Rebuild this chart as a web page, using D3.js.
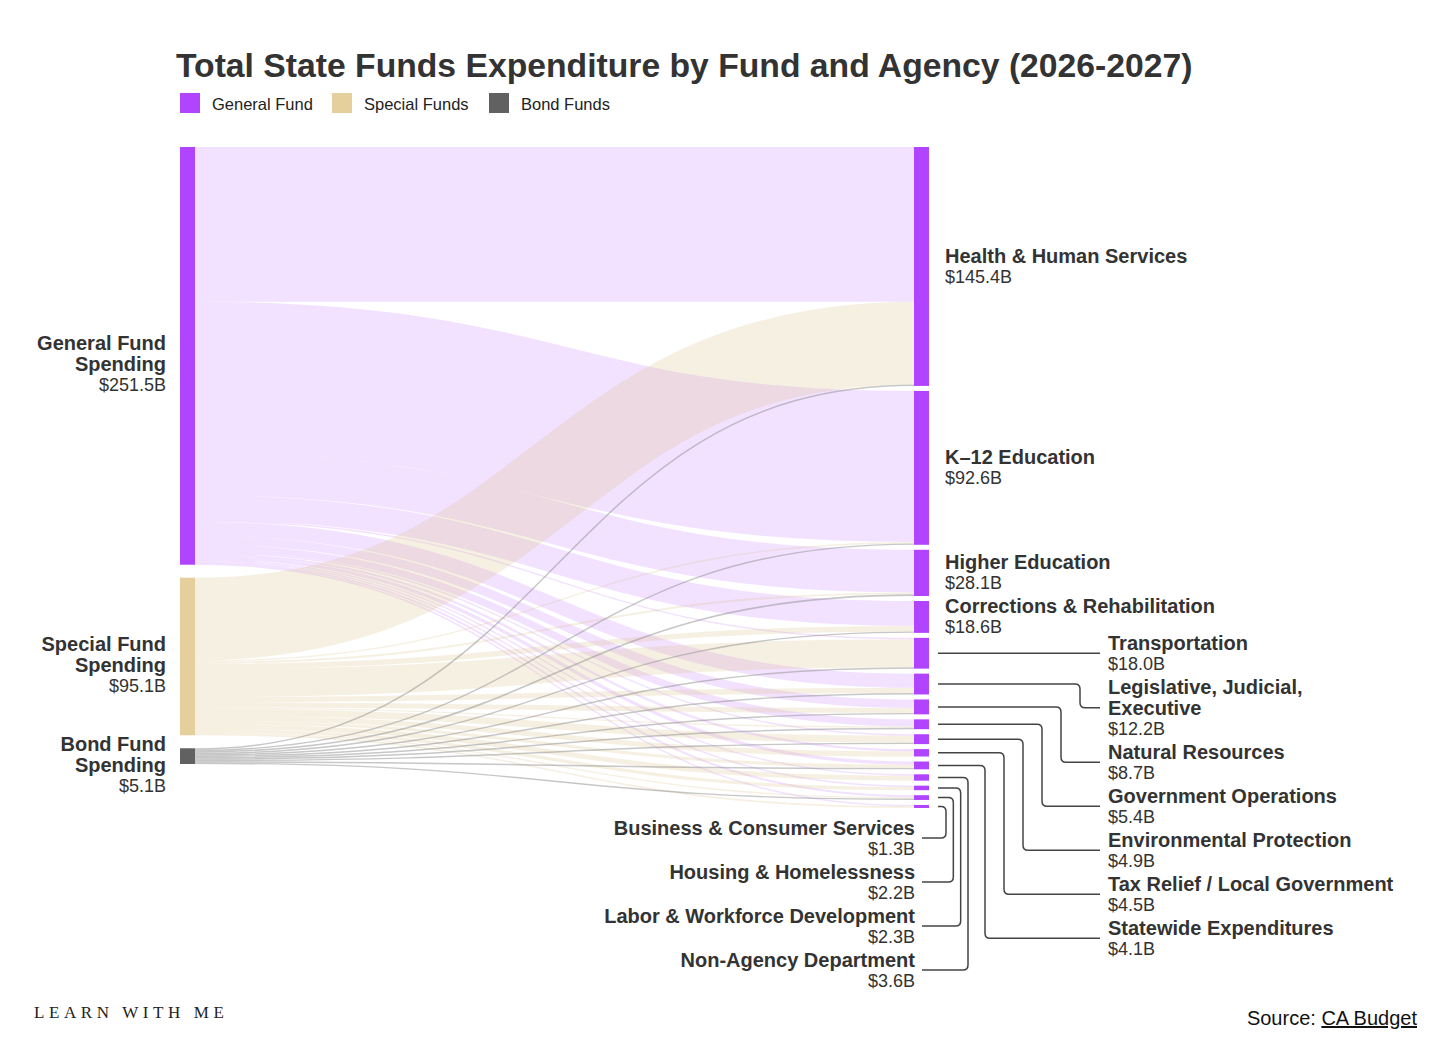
<!DOCTYPE html>
<html><head><meta charset="utf-8">
<script src="https://cdn.jsdelivr.net/npm/d3@7"></script>
<style>
html,body{margin:0;padding:0;background:#fff;}
svg{display:block;font-family:"Liberation Sans",Arial,Helvetica,sans-serif;}
</style>
</head><body>
<svg id="chart" width="1451" height="1047"></svg>
<script>
// ---------------- DATA ----------------
const funds = ["General Fund", "Special Funds", "Bond Funds"];
const fundNodeNames = [["General Fund", "Spending"], ["Special Fund", "Spending"], ["Bond Fund", "Spending"]];
const fundTotals = [251.5, 95.1, 5.1];

const agencies = [
  "Health & Human Services", "K–12 Education", "Higher Education", "Corrections & Rehabilitation",
  "Transportation", "Legislative, Judicial, Executive", "Natural Resources", "Government Operations",
  "Environmental Protection", "Tax Relief / Local Government", "Statewide Expenditures",
  "Non-Agency Department", "Labor & Workforce Development", "Housing & Homelessness",
  "Business & Consumer Services"
];
const agencyTotals = [145.4, 92.6, 28.1, 18.6, 18.0, 12.2, 8.7, 5.4, 4.9, 4.5, 4.1, 3.6, 2.3, 2.2, 1.3];

// flows by fund (estimated, $B)
const generalFundFlows = [94.0, 91.8, 25.9, 15.2, 0.3, 8.6, 5.2, 4.3, 0.3, 1.4, 2.0, 0.6, 0.4, 1.2, 0.3];
const specialFundFlows = [50.3, 0.3, 1.2, 3.3, 17.0, 3.2, 3.0, 0.8, 4.3, 3.1, 1.9, 3.0, 1.9, 0.8, 1.0];
const bondFundFlows    = [0.9, 0.5, 1.0, 0.1, 0.7, 0.4, 0.5, 0.3, 0.3, 0.0, 0.2, 0.0, 0.0, 0.2, 0.0];

const titleText = "Total State Funds Expenditure by Fund and Agency (2026-2027)";
const sourceLabel = "Source: ";
const sourceLink = "CA Budget";
const brandText = "LEARN WITH ME";

// ---------------- STYLE ----------------
const fundColors = ["#b044ff", "#e5cf9d", "#616161"];
const linkColors = ["#b044ff", "#dcc38a", "#8a8a8a"];
const linkOpacity = [0.16, 0.25, 0.48];
const agencyNodeColor = "#b044ff";
const textColor = "#333";

// ---------------- LAYOUT ----------------
const svg = d3.select("#chart");
const TOP = 147, RIGHT_BOTTOM = 808, PAD_R = 5, PAD_L = 13, MINW = 1.4, NODE_W = 15;
const colX = d3.scaleLinear().domain([0, 1]).range([180, 914]);

const flowTable = [generalFundFlows, specialFundFlows, bondFundFlows];
const links = [];
flowTable.forEach((arr, s) => arr.forEach((v, t) => { if (v > 0) links.push({ s, t, v }); }));

// solve scale factor so the right column fits between TOP and RIGHT_BOTTOM
const avail = RIGHT_BOTTOM - TOP - PAD_R * (agencies.length - 1);
let k = avail / d3.sum(links, d => d.v);
for (let i = 0; i < 30; i++) {
  const small = links.filter(d => d.v * k < MINW);
  const big = links.filter(d => d.v * k >= MINW);
  k = (avail - small.length * MINW) / d3.sum(big, d => d.v);
}
const totalFlow = d3.sum(links, d => d.v);
const yScale = d3.scaleLinear().domain([0, totalFlow]).range([0, totalFlow * k]);
links.forEach(d => d.w = Math.max(MINW, yScale(d.v)));

const leftNodes = funds.map((name, i) => ({ i, name, h: d3.sum(links.filter(l => l.s === i), l => l.w) }));
const rightNodes = agencies.map((name, i) => ({ i, name, h: d3.sum(links.filter(l => l.t === i), l => l.w) }));
let acc = TOP;
leftNodes.forEach(n => { n.y0 = acc; n.y1 = acc + n.h; acc = n.y1 + PAD_L; });
acc = TOP;
rightNodes.forEach(n => { n.y0 = acc; n.y1 = acc + n.h; acc = n.y1 + PAD_R; });

leftNodes.forEach(n => {
  let a = n.y0;
  links.filter(l => l.s === n.i).sort((p, q) => p.t - q.t).forEach(l => { l.ys = a + l.w / 2; a += l.w; });
});
rightNodes.forEach(n => {
  let a = n.y0;
  links.filter(l => l.t === n.i).sort((p, q) => p.s - q.s).forEach(l => { l.yt = a + l.w / 2; a += l.w; });
});

const xL0 = colX(0), xL1 = xL0 + NODE_W, xR0 = colX(1), xR1 = xR0 + NODE_W;

// ---------------- LINKS ----------------
const linkGen = d3.linkHorizontal().source(d => [xL1, d.ys]).target(d => [xR0, d.yt]);
svg.append("g").attr("fill", "none")
  .selectAll("path").data(links).join("path")
  .attr("d", linkGen)
  .attr("stroke", d => linkColors[d.s])
  .attr("stroke-opacity", d => linkOpacity[d.s])
  .attr("stroke-width", d => d.w);

// ---------------- NODES ----------------
svg.append("g").selectAll("rect").data(leftNodes).join("rect")
  .attr("x", xL0).attr("y", d => d.y0).attr("width", NODE_W).attr("height", d => d.h)
  .attr("fill", d => fundColors[d.i]);
svg.append("g").selectAll("rect").data(rightNodes).join("rect")
  .attr("x", xR0).attr("y", d => d.y0).attr("width", NODE_W).attr("height", d => d.h)
  .attr("fill", agencyNodeColor);

// ---------------- LABELS ----------------
const LINE = 21;
const fmt = v => "$" + d3.format(".1f")(v) + "B";
function block(g, x, yCenterFirst, nameLines, value, anchor) {
  nameLines.forEach((t, j) => {
    g.append("text").attr("x", x).attr("y", yCenterFirst + j * LINE)
      .attr("text-anchor", anchor).attr("dominant-baseline", "central")
      .attr("font-size", 20).attr("font-weight", "bold").attr("fill", textColor).text(t);
  });
  g.append("text").attr("x", x).attr("y", yCenterFirst + nameLines.length * LINE)
    .attr("text-anchor", anchor).attr("dominant-baseline", "central")
    .attr("font-size", 18).attr("fill", textColor).text(value);
}
const labels = svg.append("g");
// fund (left) labels: name lines centred on node
leftNodes.forEach(n => {
  const c = (n.y0 + n.y1) / 2;
  const lines = fundNodeNames[n.i];
  block(labels, xL0 - 14, c - (lines.length - 1) * LINE / 2 - 2, lines, fmt(fundTotals[n.i]), "end");
});

const agencyLines = agencies.map(a => a === "Legislative, Judicial, Executive" ? ["Legislative, Judicial,", "Executive"] : [a]);
// large agencies: label directly right of node
rightNodes.slice(0, 4).forEach(n => {
  const c = (n.y0 + n.y1) / 2;
  const lines = agencyLines[n.i];
  const total = lines.length + 1;
  block(labels, xR1 + 16, c - (total - 1) * LINE / 2, lines, fmt(agencyTotals[n.i]), "start");
});

function leader(x0, y0, ex, y1, x1, r) {
  if (Math.abs(y1 - y0) < 1) return `M${x0},${y0}H${x1}`;
  const dy = Math.sign(y1 - y0), dx0 = Math.sign(ex - x0), dx1 = Math.sign(x1 - ex);
  return `M${x0},${y0}H${ex - dx0 * r}Q${ex},${y0} ${ex},${y0 + dy * r}V${y1 - dy * r}Q${ex},${y1} ${ex + dx1 * r},${y1}H${x1}`;
}
const leaders = svg.append("g").attr("fill", "none").attr("stroke", "#444").attr("stroke-width", 1.5);

// medium agencies: stacked labels on the far right
const rightSet = rightNodes.slice(4, 11);
const elbowR = d3.scaleLinear().domain([1, 6]).range([1080, 985]);
let prevC = null, prevN = 0;
rightSet.forEach((n, j) => {
  const nc = (n.y0 + n.y1) / 2;
  const lines = agencyLines[n.i];
  const total = lines.length + 1;
  let c = nc;
  if (prevC !== null) c = Math.max(nc, prevC + (prevN + total) / 2 * LINE + 2);
  leaders.append("path").attr("d", leader(xR1 + 9, nc, elbowR(j), c, 1100, 5));
  block(labels, 1108, c - (total - 1) * LINE / 2, lines, fmt(agencyTotals[n.i]), "start");
  prevC = c; prevN = total;
});

// smallest agencies: stacked labels below, left of nodes
const leftSet = rightNodes.slice(11).reverse();
const elbowL = d3.scaleLinear().domain([0, 3]).range([946, 968]);
const lastBottom = rightNodes[rightNodes.length - 1].y1;
leftSet.forEach((n, j) => {
  const nc = (n.y0 + n.y1) / 2;
  const c = lastBottom + 30 + j * (2 * LINE + 2);
  leaders.append("path").attr("d", leader(xR1 + 9, nc, elbowL(j), c, 922, 5));
  block(labels, 915, c - LINE / 2, agencyLines[n.i], fmt(agencyTotals[n.i]), "end");
});

// ---------------- TITLE & LEGEND ----------------
svg.append("text").attr("x", 176).attr("y", 77)
  .attr("font-size", 33.7).attr("font-weight", "bold").attr("fill", textColor).text(titleText);

const legend = svg.append("g");
const legendX = [180, 332, 489];
funds.forEach((f, i) => {
  legend.append("rect").attr("x", legendX[i]).attr("y", 93).attr("width", 20).attr("height", 20).attr("fill", fundColors[i]);
  legend.append("text").attr("x", legendX[i] + 32).attr("y", 104).attr("dominant-baseline", "central")
    .attr("font-size", 16.5).attr("fill", "#222").text(f);
});

// ---------------- FOOTER ----------------
const src = svg.append("text").attr("x", 1417).attr("y", 1025).attr("text-anchor", "end")
  .attr("font-size", 20).attr("fill", "#111");
src.append("tspan").text(sourceLabel);
src.append("tspan").attr("text-decoration", "underline").text(sourceLink);

svg.append("text").attr("x", 34).attr("y", 1018)
  .attr("font-family", "'Liberation Serif','DejaVu Serif',serif")
  .attr("font-size", 17).attr("letter-spacing", 4.6).attr("fill", "#222").text(brandText);
</script>
</body></html>
